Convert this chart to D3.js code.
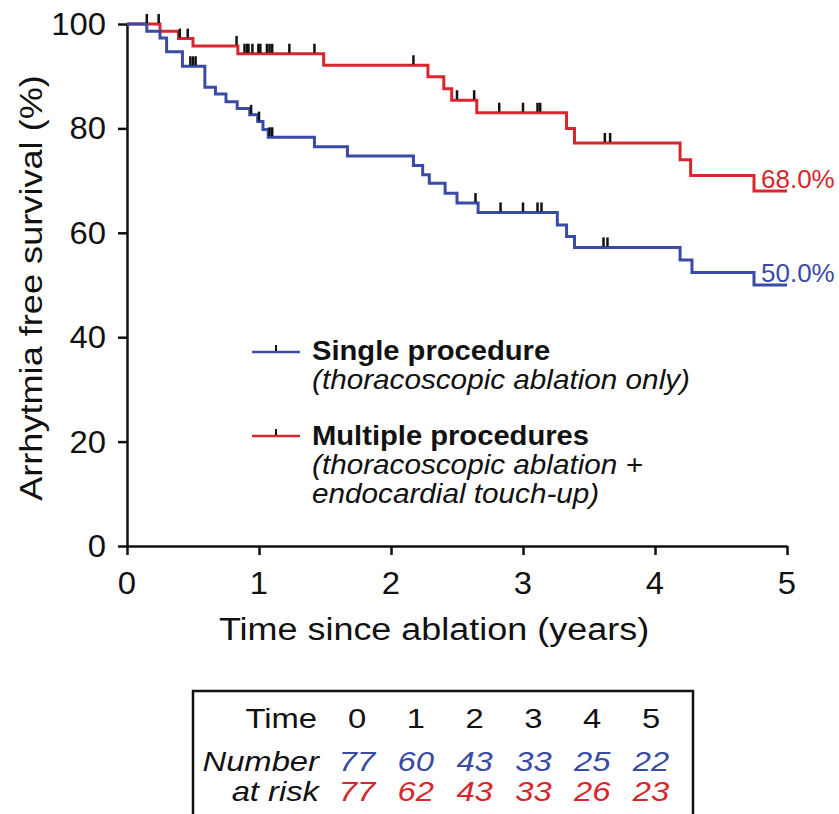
<!DOCTYPE html>
<html>
<head>
<meta charset="utf-8">
<script src="https://cdn.jsdelivr.net/npm/d3@7/dist/d3.min.js"></script>
<style>
  html, body { margin: 0; padding: 0; background: #fff; }
  svg { display: block; }
  text { font-family: "Liberation Sans", Arial, Helvetica, sans-serif; }
</style>
</head>
<body>
<div id="chart"></div>
<script>
// survival steps (time in years, survival in %)
const singleTimes = [0, 0.15, 0.25, 0.30, 0.42, 0.59, 0.67, 0.75, 0.835, 0.93, 0.99, 1.03, 1.07, 1.42, 1.67,
  2.17, 2.24, 2.29, 2.41, 2.50, 2.66, 3.26, 3.33, 3.39, 4.19, 4.28, 4.75];
const singleSurv = [100, 98.6, 97.3, 94.7, 91.9, 87.9, 86.6, 85.1, 83.8, 82.6, 81.3, 79.8, 78.3, 76.5, 74.7,
  72.9, 71.1, 69.5, 67.6, 65.7, 63.9, 61.5, 59.3, 57.2, 54.8, 52.4, 50.0];
const singleCensor = [0.48, 0.50, 0.52, 0.94, 1.0, 1.08, 1.10, 2.64, 2.83, 3.0, 3.11, 3.14, 3.61, 3.64];

const multiTimes = [0, 0.25, 0.39, 0.50, 0.84, 1.49, 2.28, 2.40, 2.46, 2.65, 3.33, 3.39, 4.19, 4.27, 4.75];
const multiSurv = [100, 98.6, 97.2, 95.8, 94.3, 92.1, 89.9, 87.6, 85.4, 83.0, 80.0, 77.2, 74.0, 71.0, 68.0];
const multiCensor = [0.15, 0.24, 0.40, 0.46, 0.83, 0.89, 0.91, 0.92, 0.95, 0.995, 1.01, 1.06, 1.08, 1.10,
  1.23, 1.42, 2.17, 2.50, 2.63, 2.82, 3.0, 3.11, 3.13, 3.62, 3.66];

const endLabels = ['50.0%', '68.0%'];
const xTicks = [0, 1, 2, 3, 4, 5];
const yTicks = [0, 20, 40, 60, 80, 100];
const atRiskSingle = [77, 60, 43, 33, 25, 22];
const atRiskMulti = [77, 62, 43, 33, 26, 23];

const BLUE = '#3a4ba6';
const RED = '#d7262d';
const width = 839, height = 814;

const svg = d3.select('#chart').append('svg')
  .attr('width', width)
  .attr('height', height);

const x = d3.scaleLinear().domain([0, 5]).range([127, 787]);
const y = d3.scaleLinear().domain([0, 100]).range([546, 24]);

// text is a little wider than Arial in the original, so stretch it a bit
function label(g, px, py, str, o = {}) {
  const rot = o.rotate ? ` rotate(${o.rotate})` : '';
  return g.append('text')
    .attr('transform', `translate(${px},${py})${rot} scale(${o.sx || 1.1},1)`)
    .attr('text-anchor', o.anchor || 'start')
    .attr('font-size', o.size || 30)
    .attr('font-weight', o.weight || 'normal')
    .attr('font-style', o.style || 'normal')
    .attr('fill', o.fill || '#111')
    .text(str);
}

// axes
svg.append('g')
  .attr('transform', `translate(${x(0)},0)`)
  .call(d3.axisLeft(y).tickValues(yTicks).tickSize(9).tickSizeOuter(0).tickFormat(''));
svg.append('g')
  .attr('transform', `translate(0,${y(0)})`)
  .call(d3.axisBottom(x).tickValues(xTicks).tickSize(9).tickSizeOuter(0).tickFormat(''));
svg.selectAll('.domain, .tick line').attr('stroke', '#111').attr('stroke-width', 2.5);

yTicks.forEach(v => label(svg, 106, y(v) + 11, v, { anchor: 'end', size: 31, sx: 1.06 }));
xTicks.forEach(v => label(svg, x(v), 594, v, { anchor: 'middle', size: 31, sx: 1.06 }));

label(svg, 434, 640, 'Time since ablation (years)', { anchor: 'middle', size: 31, sx: 1.16 });
label(svg, 42, 288, 'Arrhytmia free survival (%)', { anchor: 'middle', size: 32, sx: 1.13, rotate: -90 });

// KM curves
const line = d3.line()
  .x(d => x(d[0]))
  .y(d => y(d[1]))
  .curve(d3.curveStepAfter);

function curve(times, surv, color) {
  const pts = times.map((t, i) => [t, surv[i]]);
  pts.push([5, surv[surv.length - 1]]);
  svg.append('path')
    .datum(pts)
    .attr('fill', 'none')
    .attr('stroke', color)
    .attr('stroke-width', 3)
    .attr('d', line);
}

function censors(times, surv, marks) {
  svg.append('g')
    .selectAll('line')
    .data(marks)
    .join('line')
    .attr('x1', d => x(d))
    .attr('x2', d => x(d))
    .attr('y1', d => y(surv[d3.bisectRight(times, d) - 1]) - 1)
    .attr('y2', d => y(surv[d3.bisectRight(times, d) - 1]) - 10)
    .attr('stroke', '#111')
    .attr('stroke-width', 2.5);
}

curve(multiTimes, multiSurv, RED);
curve(singleTimes, singleSurv, BLUE);
censors(multiTimes, multiSurv, multiCensor);
censors(singleTimes, singleSurv, singleCensor);

label(svg, 761, y(singleSurv[singleSurv.length - 1]) - 3, endLabels[0], { size: 26, fill: BLUE, sx: 1.0 });
label(svg, 761, y(multiSurv[multiSurv.length - 1]) - 3, endLabels[1], { size: 26, fill: RED, sx: 1.0 });

// legend
const legend = svg.append('g');
[[352, BLUE], [436, RED]].forEach(([ly, c]) => {
  legend.append('line').attr('x1', 252).attr('x2', 300).attr('y1', ly).attr('y2', ly)
    .attr('stroke', c).attr('stroke-width', 2.5);
  legend.append('line').attr('x1', 276).attr('x2', 276).attr('y1', ly - 1).attr('y2', ly - 7)
    .attr('stroke', '#111').attr('stroke-width', 2);
});
label(legend, 312, 360, 'Single procedure', { size: 27, weight: 'bold', sx: 1.08 });
label(legend, 312, 389, '(thoracoscopic ablation only)', { size: 27, style: 'italic', sx: 1.1 });
label(legend, 312, 445, 'Multiple procedures', { size: 27, weight: 'bold', sx: 1.08 });
label(legend, 312, 474, '(thoracoscopic ablation +', { size: 27, style: 'italic', sx: 1.1 });
label(legend, 312, 503, 'endocardial touch-up)', { size: 27, style: 'italic', sx: 1.1 });

// number at risk table
const table = svg.append('g');
table.append('rect')
  .attr('x', 193).attr('y', 691).attr('width', 500).attr('height', 140)
  .attr('fill', 'none').attr('stroke', '#111').attr('stroke-width', 2.5);
const colX = d3.scalePoint().domain(xTicks).range([357, 651]);
label(table, 317, 728, 'Time', { anchor: 'end', size: 28, sx: 1.17 });
label(table, 319, 771, 'Number', { anchor: 'end', size: 28, style: 'italic', sx: 1.17 });
label(table, 319, 801, 'at risk', { anchor: 'end', size: 28, style: 'italic', sx: 1.17 });
xTicks.forEach((t, i) => {
  label(table, colX(t), 728, t, { anchor: 'middle', size: 28, sx: 1.17 });
  label(table, colX(t), 771, atRiskSingle[i], { anchor: 'middle', size: 28, style: 'italic', fill: BLUE, sx: 1.17 });
  label(table, colX(t), 801, atRiskMulti[i], { anchor: 'middle', size: 28, style: 'italic', fill: RED, sx: 1.17 });
});
</script>
</body>
</html>
